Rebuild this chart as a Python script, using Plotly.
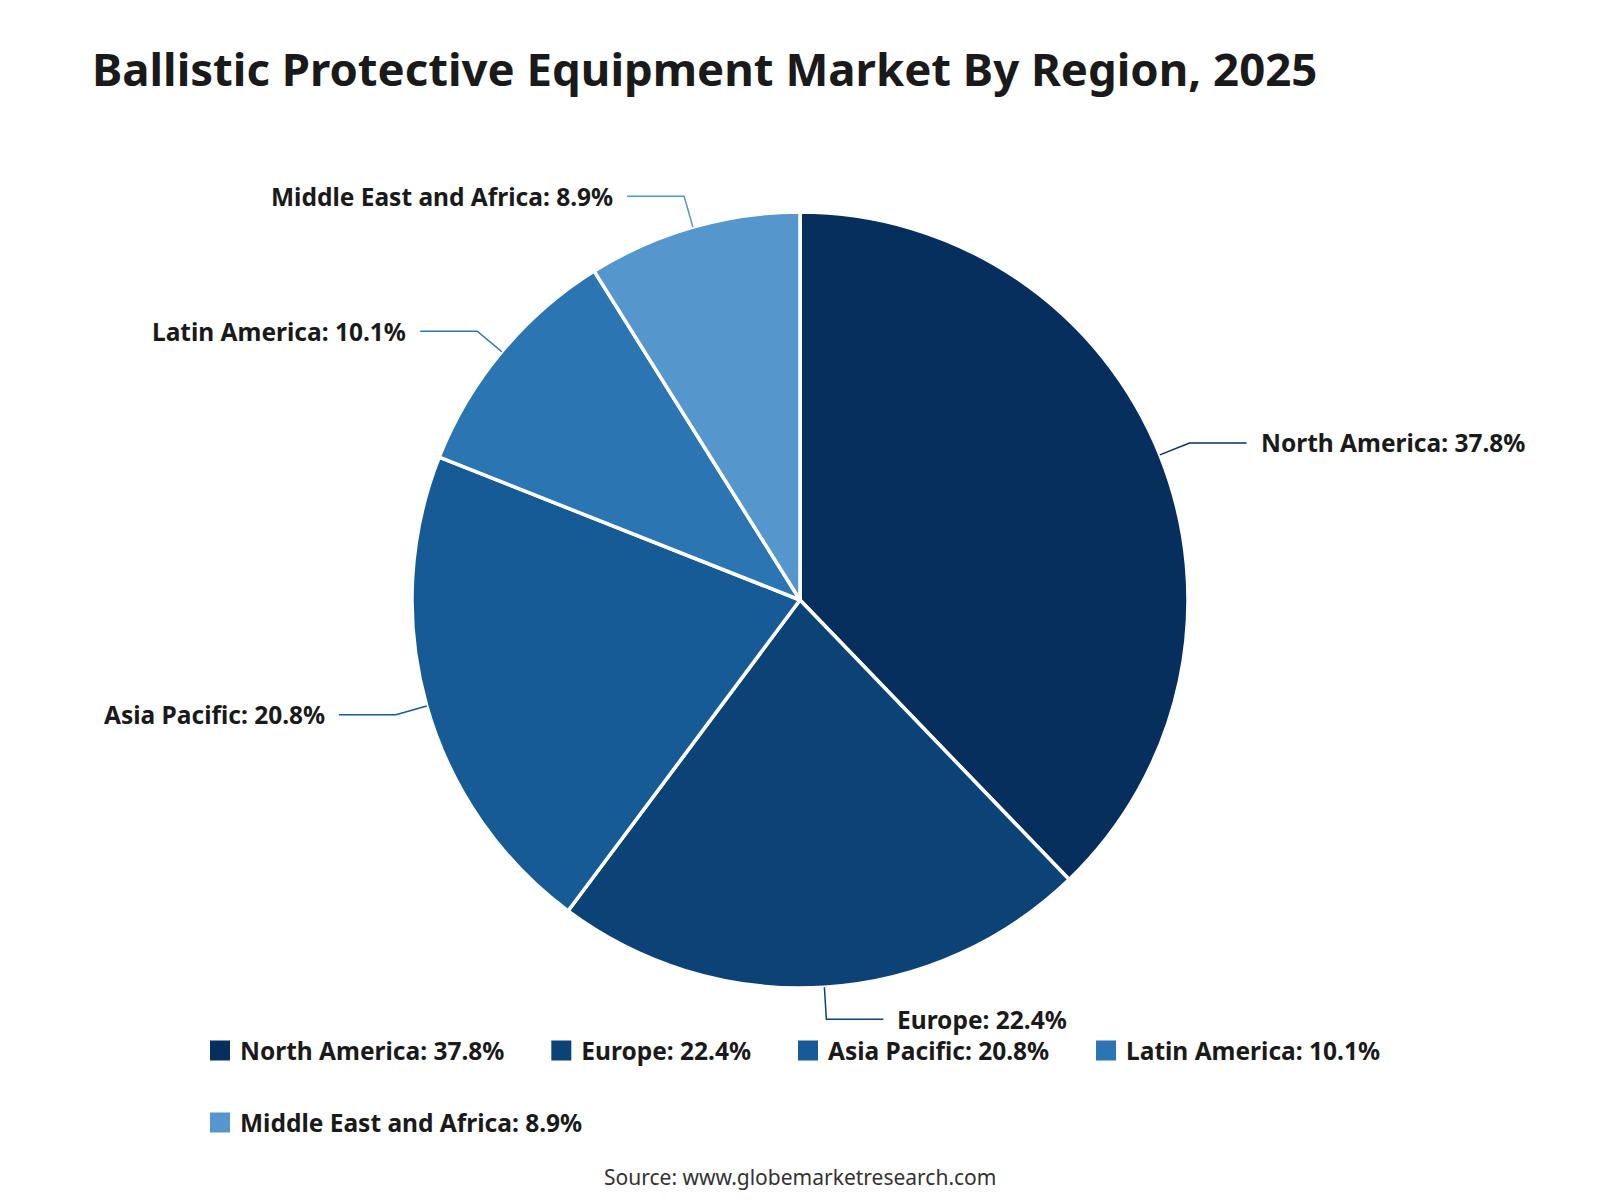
import math
import plotly.graph_objects as go

# ---- data ----
regions = ["North America", "Europe", "Asia Pacific", "Latin America", "Middle East and Africa"]
shares = [37.8, 22.4, 20.8, 10.1, 8.9]
colors = ["#072f5e", "#0c4377", "#165a96", "#2b75b3", "#5596cc"]
title_text = "Ballistic Protective Equipment Market By Region, 2025"
source_text = "Source: www.globemarketresearch.com"

# ---- layout constants (pixels) ----
W, H = 1600, 1200
CX, CY, R = 800, 600, 388
LEN1, LEN2, GAP = 32, 57, 12
FONT = "Noto Sans"
TXT = "#1a1a1a"
LBL_SIZE = 24.5

def px(x):
    return x / W

def py(y):
    return 1 - y / H

fig = go.Figure()

fig.add_trace(go.Pie(
    labels=regions,
    values=shares,
    marker=dict(colors=colors, line=dict(color="white", width=3.5)),
    sort=False,
    direction="clockwise",
    rotation=0,
    textinfo="none",
    hovertemplate="%{label}: %{value}%<extra></extra>",
    showlegend=False,
    domain=dict(x=[px(CX - R), px(CX + R)], y=[py(CY + R), py(CY - R)]),
))

# leader lines + outside labels computed from the slice angles
total = sum(shares)
cum = 0.0
shapes = []
annotations = []
for name, val, col in zip(regions, shares, colors):
    mid = (cum + val / 2) / total * 2 * math.pi
    cum += val
    s, c = math.sin(mid), math.cos(mid)
    x0, y0 = CX + R * s, CY - R * c
    x1, y1 = CX + (R + LEN1) * s, CY - (R + LEN1) * c
    side = 1 if s >= 0 else -1
    x2, y2 = x1 + side * LEN2, y1
    shapes.append(dict(
        type="path", xref="paper", yref="paper",
        path=f"M{px(x0)},{py(y0)} L{px(x1)},{py(y1)} L{px(x2)},{py(y2)}",
        line=dict(color=col, width=1.5),
    ))
    annotations.append(dict(
        xref="paper", yref="paper",
        x=px(x2 + side * GAP), y=py(y2),
        xanchor="left" if side > 0 else "right", yanchor="middle",
        text=f"<b>{name}: {val}%</b>", showarrow=False,
        font=dict(family=FONT, size=LBL_SIZE, color=TXT),
    ))

# legend entries (dummy traces so legend squares can be larger)
PAD = "\u00a0" * 5
for i, (name, val, col) in enumerate(zip(regions, shares, colors)):
    fig.add_trace(go.Scatter(
        x=[None], y=[None], mode="markers",
        marker=dict(symbol="square", size=16, color=col,
                    line=dict(color=col, width=4)),
        name=f"<b>{name}: {val}%</b>{PAD}",
        legend="legend" if i < 4 else "legend2",
        hoverinfo="skip",
    ))

annotations.append(dict(
    xref="paper", yref="paper", x=0.5, y=py(1177),
    xanchor="center", yanchor="middle", showarrow=False,
    text=source_text, font=dict(family=FONT, size=21, color="#333333"),
))

legend_common = dict(
    orientation="h", xanchor="left", yanchor="top",
    font=dict(family=FONT, size=LBL_SIZE, color=TXT),
    itemsizing="trace", bgcolor="rgba(0,0,0,0)",
    itemclick=False, itemdoubleclick=False,
)

fig.update_layout(
    width=W, height=H,
    margin=dict(l=0, r=0, t=0, b=0),
    paper_bgcolor="white", plot_bgcolor="white",
    title=dict(
        text=f"<b>{title_text}</b>",
        x=px(92), xanchor="left", y=py(70), yanchor="middle",
        font=dict(family=FONT, size=45.5, color=TXT),
    ),
    xaxis=dict(visible=False), yaxis=dict(visible=False),
    legend=dict(x=px(200), y=py(1028), **legend_common),
    legend2=dict(x=px(200), y=py(1100), **legend_common),
    shapes=shapes,
    annotations=annotations,
)

fig.write_html("out.html")
